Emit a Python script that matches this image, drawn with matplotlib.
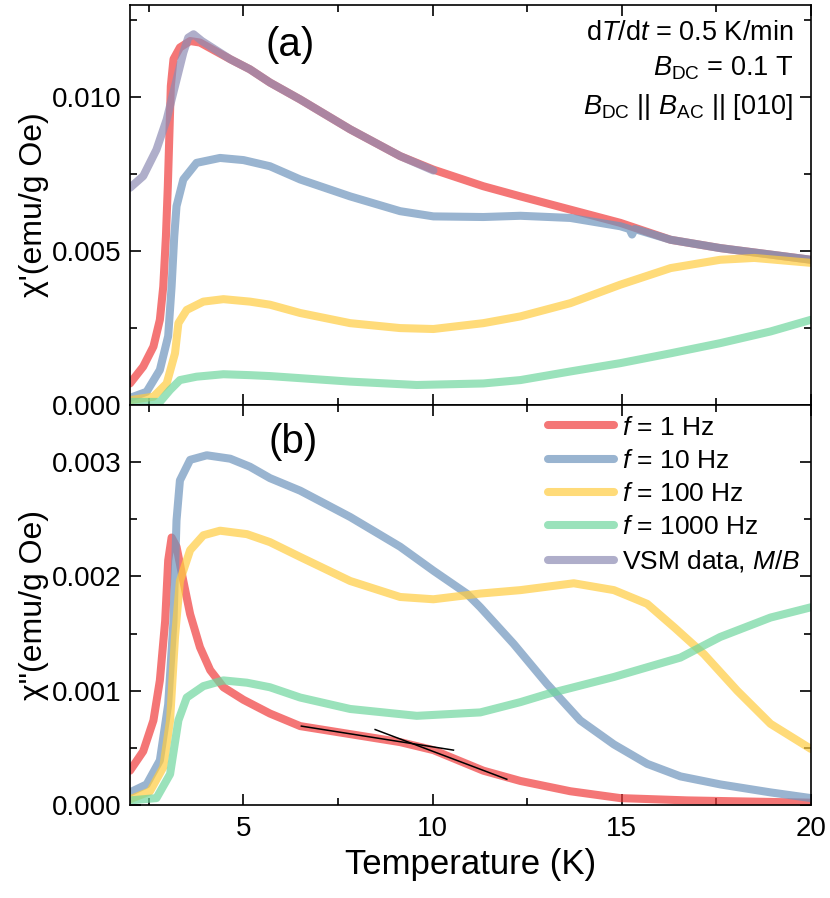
import matplotlib.pyplot as plt
import numpy as np

plt.rcParams['font.family'] = ['Liberation Sans', 'DejaVu Sans']
plt.rcParams['mathtext.fontset'] = 'custom'
plt.rcParams['mathtext.rm'] = 'Liberation Sans'
plt.rcParams['mathtext.it'] = 'Liberation Sans:italic'
plt.rcParams['mathtext.bf'] = 'Liberation Sans:bold'

# ---- top panel: chi' ----
T_r1 = [2.0, 2.35, 2.62, 2.79, 2.88, 2.95, 3.0, 3.04, 3.08, 3.15, 3.32, 3.59, 3.85, 4.65, 5.17, 5.7, 6.5, 7.82, 9.14, 10.02, 11.34, 12.32, 13.64, 14.96, 16.29, 17.6, 18.93, 20.0]
c1_r = [0.0007, 0.00125, 0.0019, 0.00277, 0.00385, 0.00548, 0.0071, 0.00874, 0.01037, 0.01124, 0.01162, 0.01183, 0.01178, 0.01124, 0.01091, 0.01048, 0.00993, 0.00896, 0.00809, 0.00765, 0.00711, 0.00678, 0.00635, 0.00592, 0.00537, 0.0051, 0.00489, 0.00472]

T_b1 = [2.0, 2.44, 2.79, 3.01, 3.1, 3.17, 3.23, 3.41, 3.76, 4.38, 5.0, 5.7, 6.5, 7.82, 9.14, 10.02, 11.34, 12.32, 13.64, 14.96, 15.2, 15.27, 15.34, 16.29, 17.6, 18.93, 20.0]
c1_b = [0.00023, 0.00043, 0.00114, 0.00224, 0.00385, 0.00548, 0.00646, 0.00733, 0.00787, 0.00803, 0.00796, 0.00776, 0.00733, 0.00678, 0.0063, 0.00613, 0.00611, 0.00615, 0.00608, 0.00581, 0.00572, 0.00554, 0.00572, 0.00537, 0.0051, 0.00489, 0.00472]

T_y1 = [2.0, 2.62, 2.97, 3.19, 3.28, 3.5, 3.94, 4.47, 5.17, 5.7, 6.5, 7.82, 9.14, 10.02, 11.34, 12.32, 13.64, 14.96, 16.29, 17.6, 18.5, 20.0]
c1_y = [0.00016, 0.00027, 0.0007, 0.00168, 0.00266, 0.00309, 0.00336, 0.00344, 0.00336, 0.00326, 0.00299, 0.00266, 0.0025, 0.00247, 0.00266, 0.00288, 0.00331, 0.00391, 0.00445, 0.00472, 0.00478, 0.00462]

T_g1 = [2.0, 2.79, 3.06, 3.32, 3.76, 4.47, 5.17, 5.7, 7.82, 9.58, 11.34, 12.32, 13.64, 14.96, 16.29, 17.6, 18.93, 20.0]
c1_g = [0.0001, 0.0001, 0.00049, 0.00081, 0.00092, 0.001, 0.00097, 0.00094, 0.00076, 0.00065, 0.0007, 0.00081, 0.00109, 0.00136, 0.00168, 0.00201, 0.00239, 0.00277]

T_vsm = [2.0, 2.35, 2.7, 2.97, 3.19, 3.41, 3.54, 3.68, 3.9, 4.65, 5.17, 5.7, 6.5, 7.82, 9.14, 10.02]
mb_vsm = [0.00706, 0.00744, 0.0083, 0.00928, 0.01037, 0.01145, 0.01194, 0.01205, 0.01183, 0.01124, 0.01091, 0.01048, 0.00993, 0.00896, 0.00809, 0.00762]

# ---- bottom panel: chi'' ----
T_r2 = [2.0, 2.35, 2.62, 2.79, 2.93, 3.01, 3.1, 3.23, 3.41, 3.59, 3.85, 4.12, 4.47, 5.0, 5.7, 6.5, 7.82, 9.14, 10.02, 11.34, 12.32, 13.64, 14.96, 16.73, 20.0]
c2_r = [0.0003, 0.00047, 0.00074, 0.00109, 0.00161, 0.00214, 0.00234, 0.00226, 0.00196, 0.00167, 0.00138, 0.00118, 0.00103, 0.00092, 0.0008, 0.00069, 0.00062, 0.00055, 0.00048, 0.0003, 0.00021, 0.00012, 0.00006, 0.00004, 0.00002]

T_b2 = [2.0, 2.44, 2.79, 3.01, 3.15, 3.23, 3.32, 3.59, 4.03, 4.65, 5.17, 5.7, 6.5, 7.82, 9.14, 10.02, 10.9, 11.26, 12.14, 13.02, 13.9, 14.79, 15.67, 16.55, 17.6, 18.93, 20.0]
c2_b = [0.00011, 0.00018, 0.00039, 0.00088, 0.00161, 0.00249, 0.00284, 0.00302, 0.00306, 0.00303, 0.00296, 0.00286, 0.00275, 0.00252, 0.00226, 0.00205, 0.00185, 0.00173, 0.00141, 0.00106, 0.00074, 0.00053, 0.00036, 0.00025, 0.00018, 0.00011, 0.00006]

T_y2 = [2.0, 2.53, 2.88, 3.06, 3.19, 3.32, 3.59, 3.94, 4.38, 5.09, 5.7, 6.5, 7.82, 9.14, 10.02, 11.26, 12.32, 13.73, 14.79, 15.67, 16.4, 17.17, 18.05, 18.93, 20.0]
c2_y = [0.00005, 0.00012, 0.00033, 0.00074, 0.00147, 0.00196, 0.00223, 0.00236, 0.0024, 0.00237, 0.0023, 0.00217, 0.00196, 0.00182, 0.0018, 0.00185, 0.00188, 0.00194, 0.00188, 0.00176, 0.00155, 0.00132, 0.001, 0.00071, 0.00049]

T_g2 = [2.0, 2.7, 3.06, 3.28, 3.5, 3.94, 4.47, 5.09, 5.7, 6.5, 7.82, 9.58, 11.26, 12.32, 13.02, 14.79, 16.55, 17.6, 18.93, 20.0]
c2_g = [0.00004, 0.00006, 0.00027, 0.00074, 0.00094, 0.00104, 0.00109, 0.00107, 0.00103, 0.00094, 0.00084, 0.00078, 0.00081, 0.0009, 0.00097, 0.00112, 0.00129, 0.00147, 0.00164, 0.00173]

# tangent lines on the 1 Hz chi'' curve
fit1_T = [6.53, 10.55]
fit1_c = [0.00069, 0.00048]
fit2_T = [8.48, 11.96]
fit2_c = [0.00066, 0.000225]

labels = ['$f$ = 1 Hz', '$f$ = 10 Hz', '$f$ = 100 Hz', '$f$ = 1000 Hz', 'VSM data, $M/B$']
colors = ['#F03C3C', '#6E94BC', '#FFCC40', '#6FD69E', '#8E8CB4']
alpha = 0.7
lw = 5.8

fig = plt.figure(figsize=(8.3, 8.98), dpi=100)
ax1 = fig.add_axes([0.1566, 0.549, 0.8205, 0.4454])
ax2 = fig.add_axes([0.1566, 0.1036, 0.8205, 0.4454])

kw = dict(lw=lw, alpha=alpha, solid_capstyle='round', solid_joinstyle='round')
ax1.plot(T_r1, c1_r, color=colors[0], **kw)
ax1.plot(T_b1, c1_b, color=colors[1], **kw)
ax1.plot(T_y1, c1_y, color=colors[2], **kw)
ax1.plot(T_g1, c1_g, color=colors[3], **kw)
ax1.plot(T_vsm, mb_vsm, color=colors[4], **kw)

h = []
h += ax2.plot(T_r2, c2_r, color=colors[0], label=labels[0], **kw)
h += ax2.plot(T_b2, c2_b, color=colors[1], label=labels[1], **kw)
h += ax2.plot(T_y2, c2_y, color=colors[2], label=labels[2], **kw)
h += ax2.plot(T_g2, c2_g, color=colors[3], label=labels[3], **kw)
h += ax2.plot([], [], color=colors[4], label=labels[4], **kw)
ax2.plot(fit1_T, fit1_c, color='black', lw=1.1)
ax2.plot(fit2_T, fit2_c, color='black', lw=1.1)

for ax in (ax1, ax2):
    ax.set_xlim(2, 20)
    ax.set_xticks([5, 10, 15, 20])
    ax.set_xticks(np.arange(2.5, 20, 2.5), minor=True)
    ax.tick_params(which='both', direction='in', top=True, right=True, width=1.2, labelsize=20)
    ax.tick_params(which='major', length=8)
    ax.tick_params(which='minor', length=5)
    ax.tick_params(axis='x', pad=8)
    ax.tick_params(axis='y', pad=6)
    for s in ax.spines.values():
        s.set_linewidth(1.2)

ax1.set_ylim(0, 0.013)
ax1.set_yticks([0, 0.005, 0.010])
ax1.set_yticklabels(['0.000', '0.005', '0.010'])
ax1.set_yticks([0.0025, 0.0075, 0.0125], minor=True)
ax1.tick_params(labelbottom=False)

ax2.set_ylim(0, 0.0035)
ax2.set_yticks([0, 0.001, 0.002, 0.003])
ax2.set_yticklabels(['0.000', '0.001', '0.002', '0.003'])
ax2.set_yticks([0.0005, 0.0015, 0.0025], minor=True)

ax1.set_ylabel("χ'(emu/g Oe)", fontsize=23, labelpad=2)
ax2.set_ylabel('χ"(emu/g Oe)', fontsize=23, labelpad=2)
ax2.set_xlabel('Temperature (K)', fontsize=25, labelpad=4)

ax1.text(0.235, 0.9, '(a)', transform=ax1.transAxes, fontsize=29, ha='center', va='center')
ax2.text(0.24, 0.9075, '(b)', transform=ax2.transAxes, fontsize=29, ha='center', va='center')

ax1.text(0.974, 0.93, 'd$T$/d$t$ = 0.5 K/min', transform=ax1.transAxes, fontsize=19.5, ha='right', va='center')
ax1.text(0.974, 0.8425, '$B_{\\rm DC}$ = 0.1 T', transform=ax1.transAxes, fontsize=19.5, ha='right', va='center')
ax1.text(0.974, 0.745, '$B_{\\rm DC}$ || $B_{\\rm AC}$ || [010]', transform=ax1.transAxes, fontsize=19.5, ha='right', va='center')

ax2.legend(handles=h, loc='upper right', fontsize=19, frameon=False, handlelength=2.5,
           handletextpad=0.3, labelspacing=0.35, borderaxespad=0.1, borderpad=0.3)

fig.savefig('out.png', dpi=100)
